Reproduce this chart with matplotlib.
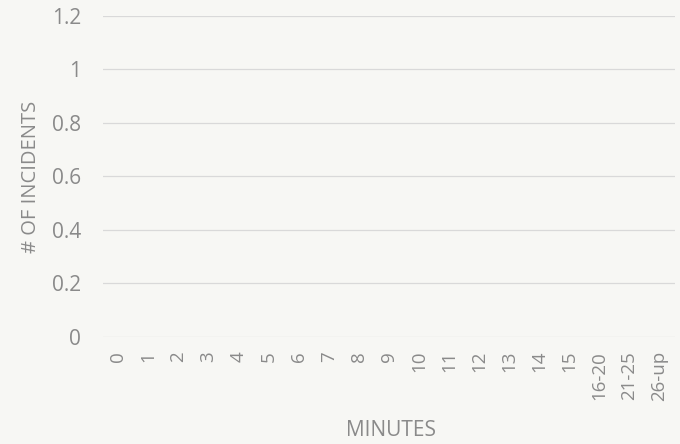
import numpy as np
import matplotlib
matplotlib.use('Agg')
import matplotlib.pyplot as plt

# categories and counts (no incidents recorded in any bucket)
minutes = ['0', '1', '2', '3', '4', '5', '6', '7', '8', '9', '10', '11', '12',
           '13', '14', '15', '16-20', '21-25', '26-up']
incidents = [0, 0, 0, 0, 0, 0, 0, 0, 0, 0, 0, 0, 0, 0, 0, 0, 0, 0, 0]
y_ticks = [0, 0.2, 0.4, 0.6, 0.8, 1, 1.2]
y_tick_labels = ['0', '0.2', '0.4', '0.6', '0.8', '1', '1.2']

plt.rcParams['font.family'] = ['Open Sans', 'DejaVu Sans']
text_col = '#8a8a8a'
paper = '#f7f7f4'

fig = plt.figure(figsize=(6.8, 4.44), dpi=100, facecolor=paper)
ax = fig.add_axes([0.152, 0.241, 0.84, 0.723], facecolor=paper)

x = np.arange(len(minutes))
ax.bar(x, incidents, width=0.6, color='#5b9bd5')

ax.set_xlim(-0.5, len(minutes) - 0.5)
ax.set_ylim(0, 1.2)
ax.set_yticks(y_ticks)
ax.set_yticklabels(y_tick_labels)
ax.set_xticks(x)
ax.set_xticklabels(minutes, rotation=90)

ax.grid(axis='y', color='#d9d9d9', linewidth=0.9)
ax.set_axisbelow(True)
for s in ax.spines.values():
    s.set_visible(False)
ax.tick_params(length=0, colors=text_col)
ax.tick_params(axis='y', labelsize=15, pad=16)
ax.tick_params(axis='x', labelsize=13.5, pad=10)

ax.set_ylabel('# OF INCIDENTS', fontsize=14.5, color=text_col, va='center')
ax.yaxis.set_label_coords(-0.126, 0.5)
ax.set_xlabel('MINUTES', fontsize=15, color=text_col, va='center')
ax.xaxis.set_label_coords(0.504, -0.29)

fig.savefig('out.png', dpi=100, facecolor=paper)
